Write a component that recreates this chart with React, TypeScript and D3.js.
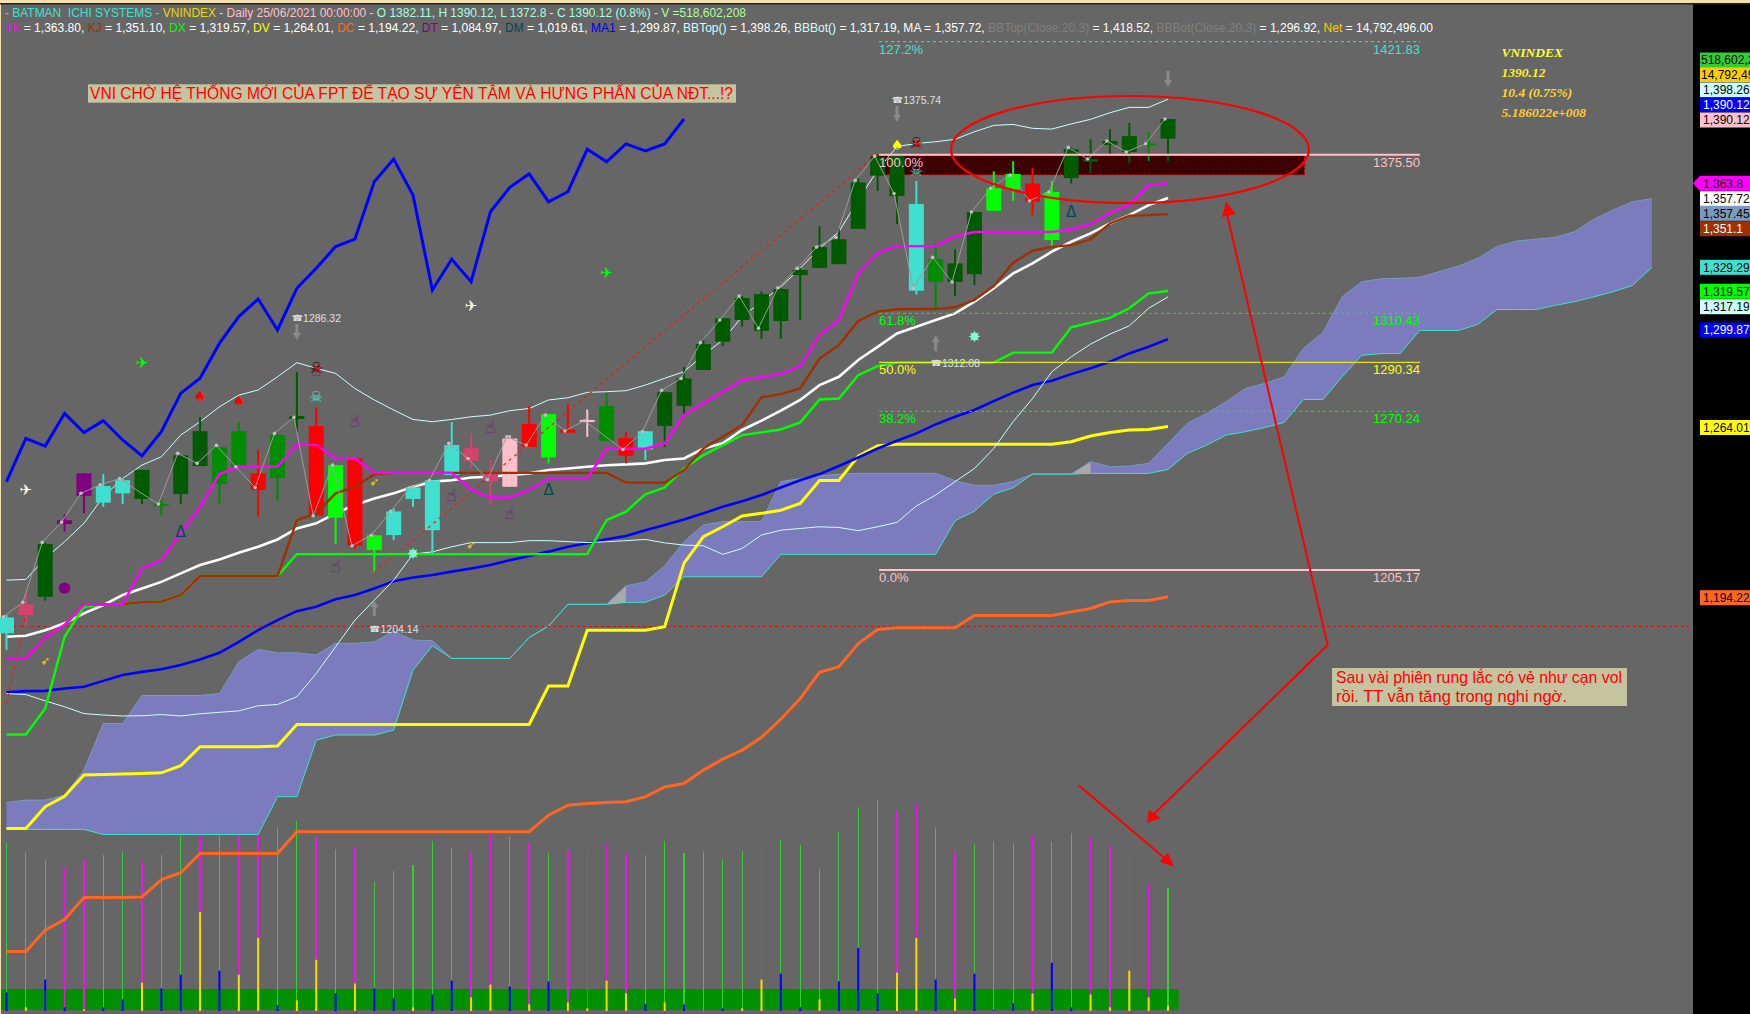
import React from "react";
import * as d3 from "d3";

// candles (price units)
const wickHigh = [1186.7,1195.8,1216.5,1228.1,1244.8,1244.5,1242.7,1246.2,1234.5,1252.2,1267.8,1255.5,1265.8,1254.4,1261.2,1286.32,1271.9,1248.2,1250.9,1219.4,1230.4,1239.0,1242.0,1265.8,1261.2,1250.3,1260.5,1272.4,1269.1,1273.2,1271.0,1277.6,1261.9,1262.1,1278.3,1288.5,1299.7,1308.4,1317.5,1319.4,1320.9,1328.9,1346.2,1345.3,1365.8,1375.74,1375.0,1364.7,1339.1,1336.7,1352.0,1368.7,1372.8,1370.0,1364.7,1378.5,1381.8,1386.0,1388.5,1384.8,1390.12];
const bodyHigh = [1185.7,1191.0,1215.8,1225.6,1244.8,1239.6,1242.0,1246.2,1232.2,1252.2,1262.1,1255.5,1262.1,1244.8,1260.5,1268.3,1264.2,1248.2,1250.9,1219.4,1229.2,1239.0,1242.0,1256.4,1255.2,1244.8,1259.1,1265.0,1269.1,1262.8,1266.7,1272.4,1259.3,1262.1,1278.1,1283.7,1297.8,1308.4,1316.7,1318.3,1320.4,1328.2,1337.6,1340.8,1364.1,1374.4,1375.0,1355.3,1332.6,1330.9,1352.0,1361.7,1367.6,1363.7,1360.2,1377.7,1373.7,1381.1,1383.1,1380.1,1390.12];
const bodyLow = [1179.2,1186.7,1194.2,1224.0,1235.6,1232.8,1236.6,1234.3,1231.4,1236.3,1247.8,1240.4,1247.5,1238.0,1242.9,1267.1,1227.4,1226.6,1215.1,1213.3,1219.5,1234.3,1221.5,1244.1,1250.0,1241.4,1239.3,1255.7,1251.3,1261.5,1266.1,1258.2,1252.0,1254.6,1264.3,1272.5,1287.2,1298.8,1307.7,1303.3,1307.3,1326.1,1329.1,1330.6,1345.1,1366.9,1358.5,1319.7,1323.3,1323.3,1326.5,1352.5,1361.3,1356.2,1340.5,1365.9,1372.6,1379.5,1376.6,1379.6,1382.11];
const wickLow = [1172.3,1181.9,1192.6,1220.9,1228.4,1231.1,1232.2,1232.2,1227.4,1232.2,1247.8,1232.5,1247.5,1227.0,1233.6,1261.5,1227.4,1215.8,1213.7,1204.14,1217.4,1231.1,1212.0,1244.1,1246.8,1231.8,1239.3,1255.7,1248.9,1261.5,1259.8,1258.2,1248.9,1250.3,1255.7,1268.7,1287.2,1297.0,1305.0,1300.0,1300.0,1307.7,1329.1,1330.6,1345.1,1360.7,1347.0,1318.1,1312.08,1317.5,1322.0,1352.5,1356.6,1350.7,1338.0,1363.7,1367.8,1375.8,1372.1,1372.9,1372.8];
const closeLine = [1186.0,1191.9,1216.5,1224.8,1236.6,1240.1,1242.7,1237.3,1232.2,1253.0,1248.9,1256.3,1247.5,1239.0,1261.2,1267.8,1227.4,1248.2,1215.1,1219.4,1229.2,1239.0,1242.0,1257.1,1250.9,1242.3,1259.8,1256.4,1268.7,1262.2,1266.4,1260.5,1254.6,1261.9,1278.9,1283.7,1298.4,1307.7,1317.5,1304.3,1320.9,1328.9,1337.6,1341.6,1365.0,1374.9,1359.6,1320.7,1333.4,1323.3,1352.0,1361.7,1367.1,1356.6,1360.2,1378.5,1373.7,1381.1,1376.6,1380.0,1390.12];
const candleKind = ["turq","crim","dark","purp","purp","turq","turq","dark","med","dark","dark","med","med","red","med","dark","red","lime","red","lime","turq","turq","turq","turq","crim","crim","pink","red","lime","red","pink","med","red","turq","dark","dark","dark","dark","dark","dark","dark","dark","dark","dark","dark","dark","dark","turq","med","dark","dark","lime","lime","red","lime","dark","dark","dark","dark","med","dark"];
const barsWithoutDot = [7, 31];

// indicator series
const tk = [1168.9,1168.9,1177.5,1182.6,1191.0,1191.0,1191.2,1205.8,1209.2,1220.2,1231.1,1244.5,1247.5,1247.5,1247.5,1256.5,1256.5,1250.9,1250.9,1245.0,1245.0,1245.0,1245.0,1245.0,1238.2,1234.9,1234.9,1238.0,1242.7,1242.7,1242.7,1254.9,1254.9,1254.9,1257.1,1268.7,1273.5,1278.3,1283.1,1284.2,1285.5,1288.8,1301.5,1307.7,1326.8,1335.3,1338.0,1338.0,1338.0,1341.9,1343.8,1343.8,1343.8,1343.8,1343.8,1344.9,1346.9,1351.7,1354.8,1363.0,1363.8];
const kj = [1168.9,1168.9,1177.5,1182.6,1191.0,1191.0,1191.2,1191.9,1192.2,1194.9,1202.7,1202.7,1202.7,1202.7,1202.7,1225.6,1228.4,1236.6,1239.3,1244.4,1245.0,1245.0,1245.0,1245.0,1245.0,1245.0,1245.0,1245.0,1245.0,1245.0,1245.0,1245.0,1241.0,1241.0,1241.0,1246.2,1255.0,1259.8,1264.6,1276.0,1277.3,1279.6,1291.9,1297.4,1307.3,1311.1,1312.1,1312.2,1312.2,1312.9,1315.9,1321.6,1331.2,1336.1,1337.7,1338.4,1340.8,1347.3,1350.5,1350.7,1351.1];
const dx = [1137.7,1137.7,1148.4,1177.8,1190.1,1191.0,1191.2,1191.9,1192.2,1194.9,1202.7,1202.7,1202.7,1202.7,1202.7,1211.7,1211.7,1211.7,1211.7,1211.7,1211.7,1211.7,1211.7,1211.7,1211.7,1211.7,1211.7,1211.7,1211.7,1211.7,1211.7,1225.6,1229.1,1236.2,1239.0,1246.8,1252.3,1256.4,1260.5,1261.6,1262.8,1265.7,1275.1,1275.5,1285.1,1288.8,1290.2,1290.2,1290.2,1290.2,1290.2,1290.2,1294.3,1294.3,1294.3,1304.7,1306.6,1308.6,1312.5,1318.6,1319.57];
const dv = [1099.2,1099.2,1108.1,1112.4,1121.1,1121.3,1121.5,1121.7,1122.0,1124.9,1132.7,1132.7,1132.7,1132.7,1133.0,1141.8,1141.8,1141.8,1141.8,1141.8,1141.8,1141.8,1141.8,1141.8,1141.8,1141.8,1141.8,1141.8,1157.6,1157.6,1180.5,1180.5,1180.5,1180.5,1181.9,1208.0,1218.8,1222.9,1227.3,1228.4,1229.7,1232.5,1241.9,1241.9,1251.9,1256.1,1256.7,1256.7,1256.7,1256.7,1256.7,1256.7,1256.7,1256.7,1256.7,1257.8,1260.1,1261.6,1262.6,1262.8,1264.01];
const dc = [1048.7,1048.7,1057.5,1061.8,1070.9,1070.9,1070.9,1071.1,1078.2,1081.0,1088.9,1088.9,1088.9,1088.9,1088.9,1097.8,1097.8,1097.8,1097.8,1097.8,1097.8,1097.8,1097.8,1097.8,1097.8,1097.8,1097.8,1097.8,1104.6,1108.7,1109.4,1109.8,1110.1,1112.1,1116.2,1117.6,1123.1,1127.6,1131.3,1136.6,1144.0,1152.5,1163.2,1165.5,1175.0,1180.8,1181.5,1181.5,1181.5,1181.5,1186.5,1186.5,1186.5,1186.5,1186.5,1188.0,1189.4,1192.1,1192.7,1192.7,1194.22];
const ma = [1177.8,1178.2,1180.5,1183.3,1187.4,1190.8,1194.9,1197.6,1200.3,1203.8,1207.2,1209.5,1212.2,1214.7,1217.7,1222.2,1224.3,1228.4,1231.8,1234.5,1236.6,1239.3,1241.4,1242.0,1243.1,1243.4,1244.1,1244.8,1246.2,1246.8,1247.5,1248.1,1248.5,1248.9,1250.3,1250.9,1255.0,1257.1,1262.6,1266.4,1270.5,1274.9,1281.0,1284.4,1291.3,1296.7,1302.2,1304.9,1307.7,1310.4,1315.2,1320.7,1326.8,1330.9,1335.7,1339.8,1343.2,1347.3,1350.7,1354.8,1357.72];
const ma1 = [1155.0,1155.5,1155.6,1156.6,1157.3,1159.7,1162.1,1163.4,1164.5,1166.2,1168.5,1171.2,1175.7,1180.5,1184.6,1188.3,1190.1,1193.2,1194.9,1197.6,1200.6,1202.1,1203.1,1204.5,1205.8,1207.2,1209.2,1210.9,1212.7,1214.7,1216.1,1217.8,1219.1,1221.5,1223.6,1225.9,1228.4,1231.1,1233.4,1235.9,1239.0,1242.0,1244.5,1247.8,1251.3,1255.0,1258.2,1261.2,1264.9,1268.0,1270.8,1274.4,1277.9,1281.0,1282.8,1285.5,1287.9,1290.6,1294.0,1296.7,1299.87];
const bbTop = [1201.0,1201.3,1209.9,1216.8,1224.3,1235.2,1242.7,1248.2,1251.6,1260.5,1266.0,1272.1,1276.9,1279.0,1284.4,1290.2,1287.9,1285.8,1279.6,1274.9,1270.8,1266.9,1266.0,1266.9,1268.0,1268.7,1270.5,1271.4,1274.9,1275.8,1278.0,1278.3,1278.7,1281.0,1283.8,1286.5,1293.3,1299.5,1309.0,1315.2,1321.3,1328.9,1337.1,1343.9,1356.9,1369.2,1378.8,1380.1,1380.8,1381.8,1384.9,1387.5,1387.9,1386.3,1386.0,1388.1,1390.0,1392.7,1394.9,1394.9,1398.26];
const bbBot = [1154.5,1154.1,1151.5,1149.1,1146.3,1145.7,1145.3,1145.4,1145.9,1145.3,1146.2,1146.8,1147.4,1149.5,1150.0,1153.2,1162.7,1173.7,1184.6,1192.8,1201.0,1211.7,1212.6,1214.7,1216.4,1216.4,1216.4,1217.2,1217.2,1216.8,1216.4,1216.8,1217.2,1217.7,1216.3,1215.4,1215.1,1211.6,1214.0,1219.5,1221.5,1222.2,1222.9,1222.6,1221.3,1222.9,1224.7,1231.4,1235.9,1241.4,1246.8,1255.0,1266.0,1275.5,1286.5,1292.6,1297.8,1301.9,1305.3,1312.5,1317.19];
const chikou = [1241.4,1259.1,1256.0,1269.4,1261.5,1266.4,1258.5,1252.0,1261.9,1277.6,1283.8,1298.1,1309.1,1316.3,1303.6,1320.7,1328.9,1337.8,1340.9,1364.4,1373.7,1358.9,1320.0,1332.6,1323.4,1352.1,1362.1,1367.6,1356.2,1360.3,1377.7,1372.6,1379.9,1377.0,1379.9,1390.12];
const spanTop = [1109.8,1110.8,1110.8,1112.8,1123.1,1142.2,1142.2,1153.7,1153.7,1153.7,1153.7,1154.5,1167.5,1172.6,1171.2,1171.2,1170.3,1175.1,1175.1,1175.7,1180.1,1176.4,1176.2,1168.9,1168.9,1168.9,1168.9,1177.5,1182.2,1191.1,1191.1,1191.1,1198.7,1200.3,1206.8,1216.8,1223.6,1225.0,1225.0,1225.0,1241.4,1242.7,1243.7,1244.5,1244.8,1244.8,1244.8,1244.8,1244.8,1241.8,1239.9,1239.9,1241.4,1244.5,1244.5,1244.5,1249.6,1247.5,1247.8,1248.9,1257.1,1265.3,1269.4,1274.2,1279.6,1281.7,1284.4,1296.1,1302.5,1317.2,1323.4,1324.6,1324.8,1325.2,1327.5,1329.8,1333.0,1337.8,1340.1,1340.8,1341.6,1343.9,1349.0,1352.8,1356.2,1357.45];
const spanBot = [1099.2,1098.8,1098.8,1098.8,1098.8,1096.7,1096.7,1096.7,1096.7,1096.7,1096.7,1096.7,1096.7,1096.7,1112.2,1112.2,1135.4,1137.5,1137.5,1137.5,1139.5,1164.1,1174.1,1168.9,1168.9,1168.9,1168.9,1177.5,1182.2,1191.1,1191.1,1191.1,1191.9,1191.9,1194.9,1202.4,1202.4,1202.4,1202.4,1202.4,1211.6,1211.6,1211.6,1211.6,1211.6,1211.6,1211.6,1211.6,1211.6,1225.4,1229.3,1236.3,1238.9,1244.5,1244.5,1244.5,1244.8,1244.8,1244.8,1244.8,1246.4,1253.0,1256.4,1260.5,1261.9,1263.6,1265.7,1275.1,1275.1,1284.4,1293.2,1293.9,1294.0,1303.4,1303.4,1303.4,1305.9,1312.0,1312.0,1312.0,1313.7,1315.2,1317.2,1319.3,1321.9,1329.29];
const greyCloudBars = [31, 55];

// volume pane, millions
const volume = [708.7,672,638.2,607.2,638.2,659.4,676.3,634,659.4,743.9,739.7,743.9,743.9,743.9,779.1,803.1,736.9,684.7,687.6,543.8,591.7,617.1,718.6,687.6,676.3,746.7,735.5,708.7,666.4,680.5,680.5,708.7,663.6,659.4,718.6,666.4,670.6,642.5,676.3,687.6,722.8,701.6,600.2,758,860.9,891.9,845.4,877.8,772.1,676.3,705.9,718.6,708.7,741.1,714.3,753.8,734,697.4,676.3,539.6,518.6];
const volumeUp = [1,1,1,0,0,1,1,0,1,1,0,1,0,0,1,1,0,1,0,1,1,1,1,1,0,0,1,0,1,0,0,0,0,1,1,1,1,1,1,0,1,1,1,1,1,1,0,0,1,0,1,1,1,0,1,1,0,0,0,0,1];
const net = [-51.7,10.2,-87.7,-10.2,4.6,-10.2,-32.3,79.4,-62.8,-101.5,276,-112.6,101.5,204,-15.7,29.5,143,-48.9,76.6,-62.8,-35.1,10.2,-46.2,-84.9,37.8,73.8,-68.3,18.5,-82.1,24,7.4,84.9,48.9,-18.5,24,-18.5,0,-7.4,7.4,87.7,-104.3,-10.2,32.3,-82.1,-176.3,-48.9,107,204,-87.7,35.1,-104.3,-1.8,-21.2,48.9,-134.8,-10.2,46.2,10.2,112.6,37.8,14.79];

// fibonacci levels
const fibPrices = [1421.83, 1375.5, 1310.43, 1290.34, 1270.24, 1205.17];
const fibPercents = ["127.2%", "100.0%", "61.8%", "50.0%", "38.2%", "0.0%"];
const fibValues = ["1421.83", "1375.50", "1310.43", "1290.34", "1270.24", "1205.17"];
const fibColors = ["#40e0d0", "#ffc0cb", "#00ff00", "#ffff00", "#00ff00", "#ffc0cb"];

// chart signal markers
const markerBars = [1,7,31,24,10,12,46,16,47,18,25,23,26,17,16,9,28,55,3,19,24,2,21,50];
const markerPrices = [1237.9,1290.2,1327.1,1313.5,1276.6,1274.5,1379.5,1276.2,1368.9,1266.4,1263.9,1235.9,1228.6,1206.8,1287.2,1220.9,1237.9,1352.1,1198.3,1241.4,1215.4,1167.8,1211.7,1300.8];
const markerGlyphs = ["✈","✈","✈","✈","♠","♠","♠","☠","☠","☝","☝","☝","☝","☝","☝","Δ","Δ","Δ","●","➶","➶","➶","✸","✸"];
const markerColors = ["#fff8dc","#00ff00","#00ff00","#fff8dc","#ff0000","#ff0000","#ffff00","#40e0d0","#40e0d0","#800080","#800080","#800080","#800080","#800080","#800080","#004a50","#004a50","#004a50","#800080","#ffd700","#ffd700","#ffd700","#7fffd4","#7fffd4"];
const markerSizes = [15,15,15,15,14,14,14,15,15,17,17,17,17,17,17,15,15,15,15,12,12,12,15,15];
const upArrowBars = [19, 48];
const upArrowPrices = [1189.5, 1298.2];
const downArrowBars = [15, 46, 60];
const downArrowPrices = [1302.8, 1392.2, 1406.5];
const pivotBars = [15, 46, 19, 48];
const pivotPrices = [1308.6, 1398.0, 1180.9, 1290.0];
const pivotLabels = ["1286.32", "1375.74", "1204.14", "1312.08"];
const crossBars = [16, 47];
const crossPrices = [1288.2, 1380.3];

// right hand tags
const tagTexts = ["518,602,208","14,792,496","1,398.26","1,390.12","1,390.12","1,363.8","1,357.72","1,357.45","1,351.1","1,329.29","1,319.57","1,317.19","1,299.87","1,264.01","1,194.22"];
const tagY = [60,74.7,90,104.7,120,183.3,198.7,213.3,228.7,267.3,291.3,306.7,330,427.5,597.7];
const tagFill = ["#32cd32","#ffcc00","#ccffff","#0000ff","#ffc0cb","#ff00ff","#ffffff","#7a9abb","#a03000","#40e0d0","#00ff00","#ccffff","#0000ff","#ffff00","#ff6622"];
const tagInk = ["#000","#000","#000","#fff","#000","#000","#000","#000","#fff","#000","#000","#000","#fff","#000","#000"];

const headerOne: [string, string][] = [
  ["- BATMAN  ICHI SYSTEMS - ", "#40e0d0"],
  ["VNINDEX", "#e6d800"],
  [" - Daily 25/06/2021 00:00:00 - ", "#ffc0cb"],
  ["O 1382.11, H 1390.12, L 1372.8 - C 1390.12 (0.8%)", "#a8ffe0"],
  [" - V =518,602,208", "#b0ffa0"],
];
const headerTwo: [string, string][] = [
  ["TK", "#ff00ff"], [" = 1,363.80, ", "#fff"],
  ["KJ", "#a03000"], [" = 1,351.10, ", "#fff"],
  ["DX", "#00ff00"], [" = 1,319.57, ", "#fff"],
  ["DV", "#ffff00"], [" = 1,264.01, ", "#fff"],
  ["DC", "#ff6622"], [" = 1,194.22, ", "#fff"],
  ["DT", "#800080"], [" = 1,084.97, ", "#fff"],
  ["DM", "#004a50"], [" = 1,019.61, ", "#fff"],
  ["MA1", "#0000ff"], [" = 1,299.87, ", "#fff"],
  ["BBTop()", "#ccffff"], [" = 1,398.26, ", "#fff"],
  ["BBBot()", "#ccffff"], [" = 1,317.19, ", "#fff"],
  ["MA", "#fff"], [" = 1,357.72, ", "#fff"],
  ["BBTop(Close,20,3)", "#808080"], [" = 1,418.52, ", "#fff"],
  ["BBBot(Close,20,3)", "#808080"], [" = 1,296.92, ", "#fff"],
  ["Net", "#ffcc00"], [" = 14,792,496.00", "#fff"],
];
const infoLines = ["VNINDEX", "1390.12", "10.4 (0.75%)", "5.186022e+008"];
const infoColors = ["#ffff33", "#ffee33", "#ffd633", "#ffcc33"];

const kindColor: Record<string, string> = {
  turq: "#40e0d0", crim: "#d2446a", dark: "#005a00", med: "#008c00",
  lime: "#00ff00", red: "#ff0000", pink: "#ffc0cb", purp: "#800080",
};

const W = 1750;
const H = 1014;
const SANS = "'Liberation Sans', Arial, sans-serif";
const SYM = "'DejaVu Sans', sans-serif";

const xScale = d3.scaleLinear().domain([0, 60]).range([6.5, 1168]);
const yScale = d3.scaleLinear().domain([1421.83, 1205.17]).range([41.7, 570]);
// volume pane shares the bar axis, has its own y
const volScale = d3.scaleLinear().domain([0, 518.6]).range([1011, 888.3]);
const netScale = d3.scaleLinear().domain([0, 14.79]).range([1011, 1005.7]);

const seriesLine = (values: number[]) =>
  d3.line<number>().x((_, i) => xScale(i)).y((d) => yScale(d))(values) || "";

const Arrow = ({ x, y, down }: { x: number; y: number; down: boolean }) => {
  const s = down ? 1 : -1;
  return (
    <path
      transform={`translate(${x},${y}) scale(1,${s})`}
      d="M-1.5,-8 L1.5,-8 L1.5,1 L4,1 L0,8 L-4,1 L-1.5,1 Z"
      fill="#8a8a8a"
    />
  );
};

const App = () => {
  const cloudArea = d3
    .area<number>()
    .x((_, i) => xScale(i))
    .y0((_, i) => yScale(spanBot[i]))
    .y1((d) => yScale(d));

  const drawSeries: [number[], string, number][] = [
    [chikou, "#0000ff", 3],
    [dc, "#ff6622", 3],
    [dv, "#ffff00", 3],
    [ma1, "#0000ff", 2.6],
    [bbTop, "#ccffff", 1],
    [bbBot, "#ccffff", 1],
    [ma, "#ffffff", 2.6],
  ];
  const overSeries: [number[], string, number][] = [
    [dx, "#00ff00", 2.4],
    [kj, "#a03000", 2.4],
    [tk, "#ff00ff", 2.4],
  ];
  const closePath =
    d3.line<number>().x((_, i) => xScale(i) - 3).y((d) => yScale(d))(closeLine) || "";

  return (
    <svg
      width={W}
      height={H}
      style={{ position: "absolute", left: 0, top: 0, display: "block", background: "#666666" }}
      fontFamily={SANS}
    >
      <rect x={0} y={0} width={W} height={H} fill="#666666" />
      <rect x={1693} y={3} width={57} height={H} fill="#000" />
      <rect x={0} y={0} width={1} height={H} fill="#f3e2b0" />
      <rect x={0} y={0} width={W} height={3} fill="#f3e2b0" />
      <rect x={0} y={3} width={W} height={1.5} fill="#222" />

      {/* cloud */}
      <path d={cloudArea(spanTop) || ""} fill="#7b7bbd" />
      {greyCloudBars.map((b) => (
        <path
          key={b}
          fill="#a9a9a9"
          d={
            d3.area<number>().x((i) => xScale(i)).y0((i) => yScale(spanBot[i])).y1((i) => yScale(spanTop[i]))([b, b + 1]) || ""
          }
        />
      ))}
      <path d={seriesLine(spanTop)} fill="none" stroke="#7a9abb" strokeWidth={1} />
      <path d={seriesLine(spanBot)} fill="none" stroke="#40e0d0" strokeWidth={1} />

      {/* volume pane */}
      <rect x={1} y={989} width={1177.6} height={21} fill="#009000" />
      {volume.map((v, i) => (
        <line
          key={i}
          x1={xScale(i)}
          x2={xScale(i)}
          y1={volScale(v)}
          y2={1011}
          stroke={volumeUp[i] ? "#33cc33" : "#f010f0"}
          strokeWidth={volumeUp[i] ? 1.1 : 1.5}
          shapeRendering="crispEdges"
        />
      ))}
      {net.map((v, i) => (
        <rect
          key={i}
          x={xScale(i) - 1}
          y={netScale(Math.abs(v))}
          width={2}
          height={1011 - netScale(Math.abs(v))}
          fill={v < 0 ? "#0000ff" : "#ffd700"}
        />
      ))}

      {/* zone */}
      <rect x={871} y={yScale(1375.1)} width={433.6} height={yScale(1367.2) - yScale(1375.1)} fill="#3c0000" stroke="#ff0000" strokeWidth={1} strokeDasharray="2 2" />

      {/* horizontal reference line */}
      <line x1={1} x2={1689} y1={yScale(1182)} y2={yScale(1182)} stroke="#ff0000" strokeDasharray="3 3" shapeRendering="crispEdges" />

      {drawSeries.map(([vals, color, width], i) => (
        <path key={i} d={seriesLine(vals)} fill="none" stroke={color} strokeWidth={width} />
      ))}

      {/* candles */}
      {bodyHigh.map((top, i) => {
        const c = kindColor[candleKind[i]];
        const h = Math.max(yScale(bodyLow[i]) - yScale(top), 2);
        return (
          <g key={i}>
            <line x1={xScale(i)} x2={xScale(i)} y1={yScale(wickHigh[i])} y2={yScale(wickLow[i])} stroke={c} strokeWidth={2} />
            <rect x={xScale(i) - 7.5} y={yScale(top)} width={15} height={h} fill={c} />
          </g>
        );
      })}

      {/* trend lines sit over the candles */}
      <line x1={xScale(19)} x2={xScale(45)} y1={yScale(1204.14)} y2={yScale(1375.74)} stroke="#ff1010" strokeWidth={1.2} strokeDasharray="3 4" />
      <line x1={xScale(0)} x2={xScale(1)} y1={yScale(1150.6)} y2={yScale(1186.7)} stroke="#ff1010" strokeWidth={1.2} strokeDasharray="3 4" />

      {overSeries.map(([vals, color, width], i) => (
        <path key={i} d={seriesLine(vals)} fill="none" stroke={color} strokeWidth={width} />
      ))}

      {/* close line */}
      <path d={closePath} fill="none" stroke="#9c9c9c" strokeWidth={1} />
      {closeLine.map((v, i) =>
        barsWithoutDot.includes(i) ? null : (
          <circle key={i} cx={xScale(i) - 3} cy={yScale(v)} r={1.8} fill="#c0c0c0" />
        ),
      )}

      {/* fibonacci */}
      {fibPrices.map((p, i) => {
        const solid = i === 1 || i === 3 || i === 5;
        return (
          <g key={p}>
            <line
              x1={879}
              x2={1420}
              y1={yScale(p)}
              y2={yScale(p)}
              stroke={fibColors[i]}
              strokeWidth={i === 1 || i === 5 ? 2 : 1}
              strokeDasharray={solid ? undefined : "3 3"}
            />
            <text x={879} y={yScale(p) + 12} fontSize={13} fill={fibColors[i]}>{fibPercents[i]}</text>
            <text x={1420} y={yScale(p) + 12} fontSize={13} fill={fibColors[i]} textAnchor="end">{fibValues[i]}</text>
          </g>
        );
      })}

      {/* signal glyphs */}
      {markerBars.map((b, i) => (
        <text
          key={i}
          x={xScale(b)}
          y={yScale(markerPrices[i])}
          fontFamily={SYM}
          fontSize={markerSizes[i]}
          fill={markerColors[i]}
          textAnchor="middle"
          dominantBaseline="central"
        >
          {markerGlyphs[i]}
        </text>
      ))}
      {crossBars.map((b, i) => (
        <g key={b}>
          <text x={xScale(b)} y={yScale(crossPrices[i])} fontFamily={SYM} fontSize={15} fill="#000" textAnchor="middle" dominantBaseline="central">☠</text>
          <text x={xScale(b) + 1} y={yScale(crossPrices[i]) + 1} fontFamily={SYM} fontSize={12} fill="#ff0000" textAnchor="middle" dominantBaseline="central">✕</text>
        </g>
      ))}
      {upArrowBars.map((b, i) => (
        <Arrow key={b} x={xScale(b)} y={yScale(upArrowPrices[i])} down={false} />
      ))}
      {downArrowBars.map((b, i) => (
        <Arrow key={b} x={xScale(b)} y={yScale(downArrowPrices[i])} down={true} />
      ))}
      {pivotBars.map((b, i) => (
        <text key={b} x={xScale(b) - 5} y={yScale(pivotPrices[i])} fontSize={10.5} fill="#e0e0e0" dominantBaseline="central">
          <tspan fontFamily={SYM} fontSize={9}>☎</tspan>
          {pivotLabels[i]}
        </text>
      ))}

      {/* headers */}
      <text x={5} y={17} fontSize={12} textLength={741} lengthAdjust="spacingAndGlyphs" xmlSpace="preserve">
        {headerOne.map(([t, c], i) => (
          <tspan key={i} fill={c}>{t}</tspan>
        ))}
      </text>
      <text x={5} y={32} fontSize={12} textLength={1428} lengthAdjust="spacingAndGlyphs" xmlSpace="preserve">
        {headerTwo.map(([t, c], i) => (
          <tspan key={i} fill={c}>{t}</tspan>
        ))}
      </text>

      {infoLines.map((t, i) => (
        <text
          key={t}
          x={1501.5}
          y={57 + i * 20}
          fontFamily="'Liberation Serif', serif"
          fontWeight="bold"
          fontStyle="italic"
          fontSize={13.5}
          fill={infoColors[i]}
        >
          {t}
        </text>
      ))}

      {/* right hand tags */}
      <polygon points={`1693,${tagY[5]} 1700,${tagY[5] - 7.5} 1700,${tagY[5] + 7.5}`} fill="#ff00ff" />
      {tagTexts.map((t, i) => (
        <g key={i}>
          <rect x={1700} y={tagY[i] - 7.5} width={50} height={15} fill={tagFill[i]} />
          <text x={i < 2 ? 1701 : 1703} y={tagY[i] + 4.2} fontSize={12} fill={tagInk[i]}>{t}</text>
        </g>
      ))}

      {/* hand drawn notes */}
      <ellipse cx={1130} cy={149.5} rx={179} ry={53.5} fill="none" stroke="#ff0000" strokeWidth={2.2} />
      <polyline points="1226,210 1327.7,645 1152,816" fill="none" stroke="#ff0000" strokeWidth={2} />
      <polygon points="1226,201.7 1222,217 1235.8,214" fill="#ff0000" />
      <polygon points="1147,822.7 1149,810 1160.7,818" fill="#ff0000" />
      <line x1={1078.6} y1={785.3} x2={1168} y2={861} stroke="#ff0000" strokeWidth={2} />
      <polygon points="1174,866.7 1159.5,861.7 1168,853" fill="#ff0000" />

      <rect x={88} y={84.3} width={648} height={18.4} fill="#c4c4a0" />
      <text x={90} y={99} fontSize={17} fill="#ff0000" textLength={643} lengthAdjust="spacingAndGlyphs">
        VNI CHỜ HỆ THỐNG MỚI CỦA FPT ĐỂ TẠO SỰ YÊN TÂM VÀ HƯNG PHẤN CỦA NĐT...!?
      </text>
      <rect x={1332} y={668} width={295} height={38} fill="#c4c4a0" />
      <text x={1336} y={683} fontSize={16.5} fill="#ff0000" textLength={286} lengthAdjust="spacingAndGlyphs">
        Sau vài phiên rung lắc có vẻ như cạn vol
      </text>
      <text x={1336} y={702} fontSize={16.5} fill="#ff0000" textLength={231} lengthAdjust="spacingAndGlyphs">
        rồi. TT vẫn tăng trong nghi ngờ.
      </text>
    </svg>
  );
};

export default App;
